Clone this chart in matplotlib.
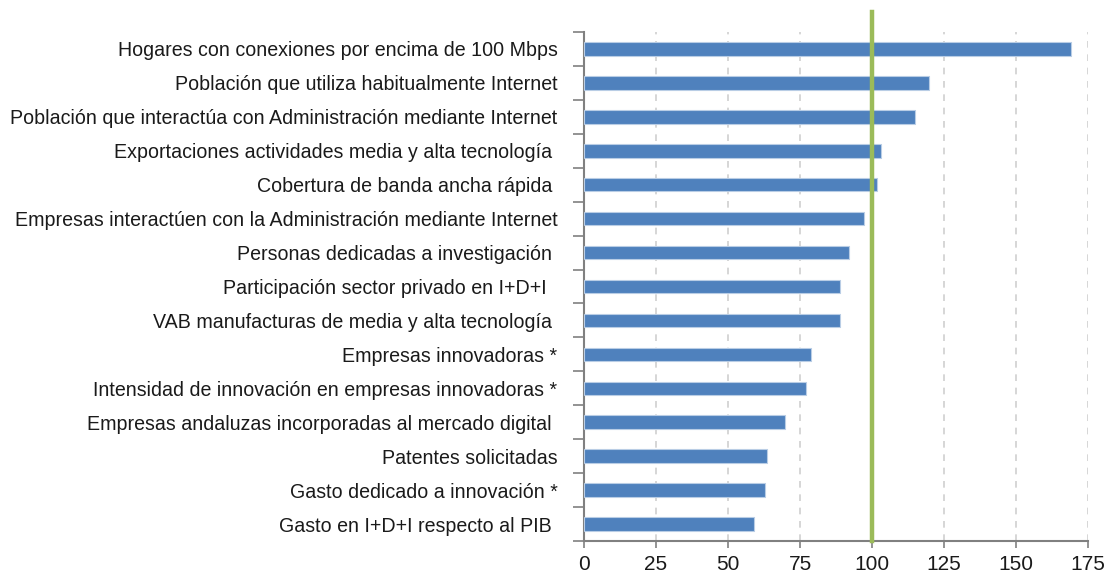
import matplotlib
matplotlib.use("Agg")
import matplotlib.pyplot as plt
from matplotlib import font_manager

categories = [
    "Hogares con conexiones por encima de 100 Mbps",
    "Población que utiliza habitualmente Internet",
    "Población que interactúa con Administración mediante Internet",
    "Exportaciones actividades media y alta tecnología ",
    "Cobertura de banda ancha rápida ",
    "Empresas interactúen con la Administración mediante Internet",
    "Personas dedicadas a investigación ",
    "Participación sector privado en I+D+I  ",
    "VAB manufacturas de media y alta tecnología ",
    "Empresas innovadoras *",
    "Intensidad de innovación en empresas innovadoras *",
    "Empresas andaluzas incorporadas al mercado digital ",
    "Patentes solicitadas",
    "Gasto dedicado a innovación *",
    "Gasto en I+D+I respecto al PIB ",
]
values = [169.2, 119.7, 114.9, 103.0, 101.9, 97.2, 91.9, 88.9, 88.8,
          78.7, 77.0, 69.9, 63.7, 62.7, 59.1]
x_ticks = [0, 25, 50, 75, 100, 125, 150, 175]
reference = 100

names = {f.name for f in font_manager.fontManager.ttflist}
fam = "Liberation Sans Narrow" if "Liberation Sans Narrow" in names else "Liberation Sans"
plt.rcParams["font.family"] = [fam, "DejaVu Sans"]

fig = plt.figure(figsize=(11.06, 5.79), dpi=100)
ax = fig.add_axes([584 / 1106, 38 / 579, (1088 - 584) / 1106, (541 - 32) / 579])

n = len(categories)
ypos = list(range(n))
ax.barh(ypos, values, height=0.40, color="#4F81BD", edgecolor="#B9CDE5",
        linewidth=0.8, zorder=3)
ax.set_ylim(n - 0.5, -0.5)
ax.set_xlim(0, 175)

ax.set_yticks(ypos)
ax.set_yticklabels(categories, fontsize=14.1, color="#1a1a1a")
ax.set_yticks([i - 0.5 for i in range(n + 1)], minor=True)
ax.tick_params(axis="y", which="major", length=0, pad=19)
ax.tick_params(axis="y", which="minor", length=8, width=1.2, color="#808080", direction="out")

ax.set_xticks(x_ticks)
ax.set_xticklabels([str(t) for t in x_ticks], fontsize=15, color="#1a1a1a")
ax.tick_params(axis="x", length=5, width=1.2, color="#808080", direction="out", pad=5)

ax.xaxis.grid(True, linestyle=(0, (4, 4)), color="#D0D0D0", linewidth=1.2, zorder=0)
ax.set_axisbelow(True)

for s in ["top", "right"]:
    ax.spines[s].set_visible(False)
for s in ["left", "bottom"]:
    ax.spines[s].set_color("#808080")
    ax.spines[s].set_linewidth(1.5)

ax.plot([reference, reference], [0, 1.039], color="#9BBB59", linewidth=3.2,
        transform=ax.get_xaxis_transform(), clip_on=False, zorder=5)

fig.savefig("out.png", dpi=100)
